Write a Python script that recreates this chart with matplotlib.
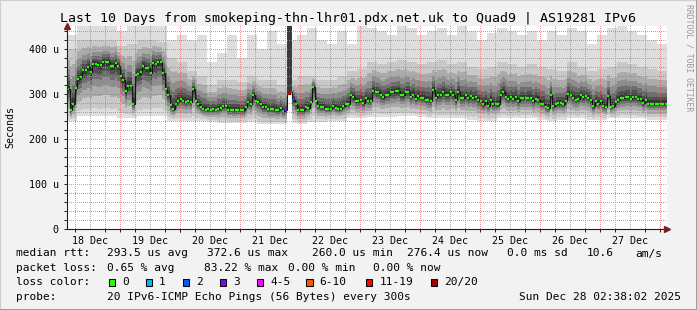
import numpy as np
import matplotlib.pyplot as plt
from matplotlib.patches import Rectangle
from matplotlib.lines import Line2D

# hourly median rtt (us), starting Dec 18 02:38
median = [
    311, 264, 278, 313, 333, 338, 353, 353, 360, 347, 366, 366, 364, 363, 371, 371, 371, 362, 362, 368, 362, 340, 330, 305,
    318, 318, 278, 341, 344, 348, 361, 358, 356, 346, 368, 365, 371, 371, 346, 311, 298, 274, 267, 276, 284, 289, 284, 281,
    284, 281, 310, 284, 276, 270, 265, 264, 265, 264, 265, 264, 266, 268, 272, 272, 264, 264, 263, 263, 264, 263, 263, 270,
    281, 276, 296, 284, 281, 276, 270, 270, 266, 266, 266, 263, 263, 268, 261, 264, 300, 304, 287, 276, 264, 263, 263, 270,
    268, 281, 315, 284, 273, 270, 270, 267, 267, 267, 272, 268, 266, 266, 273, 277, 277, 296, 293, 283, 283, 287, 279, 290,
    284, 284, 307, 303, 303, 296, 293, 298, 298, 303, 303, 305, 305, 296, 296, 303, 303, 292, 298, 289, 294, 291, 291, 287,
    287, 284, 309, 291, 296, 296, 303, 296, 296, 303, 298, 285, 303, 291, 291, 296, 291, 294, 291, 293, 285, 283, 277, 283,
    273, 287, 276, 276, 276, 296, 303, 293, 289, 293, 289, 293, 283, 291, 291, 291, 291, 291, 283, 289, 287, 278, 278, 270,
    268, 298, 273, 276, 279, 279, 277, 284, 300, 296, 291, 287, 289, 296, 293, 294, 291, 285, 272, 283, 278, 283, 273, 270,
    294, 270, 273, 281, 287, 291, 291, 293, 293, 289, 293, 293, 288, 288, 279, 287, 278, 278, 278, 278, 278, 278, 278, 278,
]

# smoke extents, 4-hour steps (us)
smoke_top = [430, 455, 455, 455, 455, 440, 455, 455, 455, 450, 420, 430,
             420, 430, 370, 390, 430, 380, 430, 400, 440, 410, 420, 430,
             445, 420, 410, 440, 410, 450, 445, 440, 430, 450, 445, 430,
             440, 445, 430, 450, 440, 420, 435, 445, 440, 430, 440, 420,
             440, 430, 445, 440, 410, 430, 445, 450, 440, 430, 420, 410]
smoke_mid = [400, 420, 420, 420, 420, 405, 410, 420, 420, 415, 380, 370,
             350, 340, 320, 330, 330, 325, 340, 330, 330, 320, 330, 340,
             340, 330, 330, 340, 350, 355, 370, 365, 370, 375, 370, 365,
             370, 375, 365, 370, 360, 355, 360, 370, 365, 360, 365, 360,
             355, 350, 370, 360, 350, 355, 360, 370, 365, 360, 355, 350]
smoke_bot = [240, 250, 250, 250, 250, 245, 245, 250, 250, 250, 240, 240,
             240, 240, 238, 235, 235, 235, 238, 232, 232, 232, 235, 232,
             238, 238, 240, 240, 245, 245, 248, 248, 248, 250, 250, 248,
             245, 245, 245, 245, 242, 240, 240, 245, 245, 245, 245, 242,
             240, 242, 245, 245, 242, 242, 245, 245, 245, 245, 242, 242]

# hours with packet loss (everything else is 0)
loss_hours = [86, 87, 88, 89, 90]
loss_levels = ['1', '3', '11-19', '11-19', '2']
spike_hours = [88, 89]

loss_names = ['0', '1', '2', '3', '4-5', '6-10', '11-19', '20/20']
loss_colors = ['#26ff00', '#00b8ff', '#0059ff', '#7e00ff', '#ff00ff', '#ff5500', '#ff0000', '#a10000']

day_labels = ['18 Dec', '19 Dec', '20 Dec', '21 Dec', '22 Dec',
              '23 Dec', '24 Dec', '25 Dec', '26 Dec', '27 Dec']
first_noon = 9.37      # hours from start to Dec 18 12:00
first_midnight = 21.37

title = 'Last 10 Days from smokeping-thn-lhr01.pdx.net.uk to Quad9 | AS19281 IPv6'
row_rtt = ['median rtt:', '293.5 us avg', '372.6 us max', '260.0 us min',
           '276.4 us now', '0.0 ms sd', '10.6', 'am/s']
row_loss = ['packet loss:', '0.65 % avg', '83.22 % max', '0.00 % min', '0.00 % now']
probe_text = '20 IPv6-ICMP Echo Pings (56 Bytes) every 300s'
date_text = 'Sun Dec 28 02:38:02 2025'

plt.rcParams['font.family'] = ['DejaVu Sans Mono']

W, H = 697, 310
AW, AH = 600, 203          # plot area in pixels
X0, Y0 = 67, 81            # plot area origin (left, bottom) in pixels
XMAX, YMAX = 240, 450

fig = plt.figure(figsize=(W / 100, H / 100), dpi=100, facecolor='#f2f2f2')


def px(x, y):
    return x / W, 1 - y / H


ax = fig.add_axes([X0 / W, Y0 / H, AW / W, AH / H], facecolor='white')

med = np.array(median, dtype=float)
n = len(med)
edges = np.arange(n + 1)
top = np.repeat(smoke_top, 4)
mid = np.maximum(np.repeat(smoke_mid, 4), med)
bot = np.repeat(smoke_bot, 4)

# smoke
ax.stairs(top, edges, baseline=bot, fill=True, color='#dedede', lw=0, zorder=1)
shades = [(1.0, '#c8c8c8'), (0.72, '#ababab'), (0.5, '#8e8e8e'),
          (0.33, '#6e6e6e'), (0.2, '#505050'), (0.1, '#353535')]
for f, c in shades:
    up = med + f * (mid - med)
    lo = med - 0.85 * f * (med - bot)
    ax.stairs(up, edges, baseline=lo, fill=True, color=c, lw=0, zorder=1)

for h in spike_hours:
    ax.stairs([med[h]], [h, h + 1], baseline=0, fill=True, color='white', lw=0, zorder=1)
    ax.stairs([YMAX], [h, h + 1], baseline=med[h], fill=True, color='#3a3a3a', lw=0, zorder=1)

# dotted grid, rendered pixel by pixel like rrdtool
minor_col = (0.56, 0.56, 0.56, 0.75)
major_col = (0.87, 0.31, 0.31, 0.6)
midnights = first_midnight + 24 * np.arange(10)
sixes = np.array([t for t in np.arange(first_midnight - 18, XMAX, 6)
                  if t > 0 and (t - first_midnight) % 24 != 0])
grid = np.zeros((AH, AW, 4))
for v in range(20, YMAX, 20):
    r = int(round((YMAX - v) / YMAX * AH))
    grid[r, ::2] = major_col if v % 100 == 0 else minor_col
for t in sixes:
    c = int(t / XMAX * AW)
    grid[::2, c] = minor_col
for t in midnights:
    c = int(t / XMAX * AW)
    grid[::2, c] = major_col
ax.imshow(grid, extent=[0, XMAX, 0, YMAX], aspect='auto', interpolation='nearest',
          zorder=3)

# median line coloured by loss
ax.stairs(med, edges, baseline=None, color='#151515', lw=0.8, zorder=4)
cols = [loss_colors[0]] * n
for h, lvl in zip(loss_hours, loss_levels):
    cols[h] = loss_colors[loss_names.index(lvl)]
ax.hlines(med, edges[:-1] + 0.05, edges[1:] - 0.05, colors=cols, lw=1.6, zorder=5)

ax.set_xlim(0, XMAX)
ax.set_ylim(0, YMAX)

# axes
for s in ['top', 'right']:
    ax.spines[s].set_visible(False)
for s in ['left', 'bottom']:
    ax.spines[s].set_color('#1f1f1f')
    ax.spines[s].set_linewidth(0.8)
    ax.spines[s].set_zorder(6)

arrow_col = (0.5, 0.12, 0.12)
ax.plot([1.0], [0], marker='>', ms=4.5, color=arrow_col, transform=ax.transAxes,
        clip_on=False, zorder=7)
ax.plot([0], [1.0], marker='^', ms=4.5, color=arrow_col, transform=ax.transAxes,
        clip_on=False, zorder=7)

noons = first_noon + 24 * np.arange(len(day_labels))
ax.set_xticks(noons)
ax.set_xticklabels(day_labels)
ax.set_xticks(np.concatenate([midnights, sixes]), minor=True)
ax.tick_params(axis='x', which='major', length=0, pad=5, labelsize=7.2)
ax.tick_params(axis='x', which='minor', length=2, width=0.7, color='#1f1f1f')

ax.set_yticks([0, 100, 200, 300, 400])
ax.set_yticklabels(['0', '100 u', '200 u', '300 u', '400 u'])
ax.set_yticks(np.arange(20, YMAX, 20), minor=True)
ax.tick_params(axis='y', which='both', length=2, width=0.7, color='#1f1f1f',
               pad=4, labelsize=7.2)

# texts
fig.text(*px(348, 18.5), title, ha='center', va='center', fontsize=9.5)
fig.text(*px(10, 127), 'Seconds', rotation=90, ha='center', va='center', fontsize=7.2)
fig.text(*px(689, 4), 'RRDTOOL / TOBI OETIKER', rotation=270, ha='center', va='top',
         fontsize=5.9, color='#9a9a9a')

fs = 8.0
for x, s in zip([16, 107, 207, 312, 407, 507, 587, 635], row_rtt):
    fig.text(*px(x, 253.5), s, ha='left', va='center', fontsize=fs)
for x, s in zip([16, 107, 204, 288, 373], row_loss):
    fig.text(*px(x, 268), s, ha='left', va='center', fontsize=fs)
fig.text(*px(16, 282), 'loss color:', ha='left', va='center', fontsize=fs)
box_x = [108.5, 145.5, 182.5, 219.5, 256.5, 306, 366, 431]
for x, name, c in zip(box_x, loss_names, loss_colors):
    fig.add_artist(Rectangle(px(x, 285.5), 6.5 / W, 6.5 / H, transform=fig.transFigure,
                             facecolor=c, edgecolor='black', lw=0.75))
    fig.text(*px(x + 13.5, 282), name, ha='left', va='center', fontsize=fs)
fig.text(*px(16, 296.5), 'probe:', ha='left', va='center', fontsize=fs)
fig.text(*px(107, 296.5), probe_text, ha='left', va='center', fontsize=fs)
fig.text(*px(681, 296.5), date_text, ha='right', va='center', fontsize=fs)

# shaded frame
fig.add_artist(Line2D([0, 0, 1], [0, 1, 1], transform=fig.transFigure, color='#cfcfcf', lw=1.5))
fig.add_artist(Line2D([0, 1, 1], [0, 0, 1], transform=fig.transFigure, color='#9e9e9e', lw=2.2))

fig.savefig('out.png', dpi=100, facecolor=fig.get_facecolor())
